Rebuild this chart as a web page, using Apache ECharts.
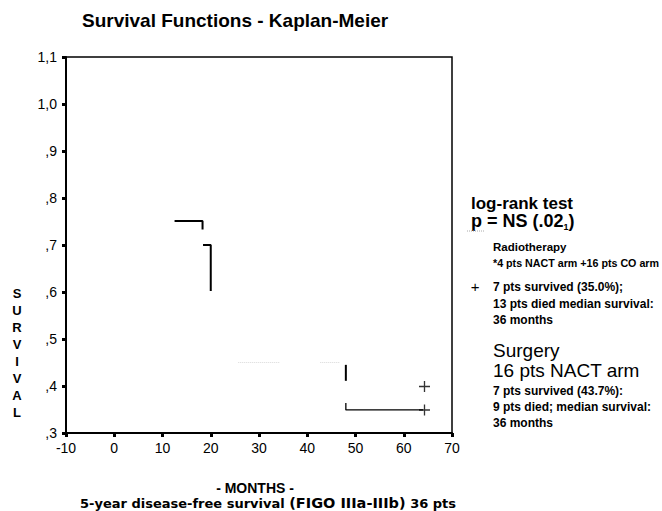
<!DOCTYPE html>
<html><head><meta charset="utf-8">
<script src="https://cdn.jsdelivr.net/npm/echarts@6/dist/echarts.min.js"></script>
<style>html,body{margin:0;padding:0;background:#fff}#c{width:662px;height:511px}</style>
</head><body><div id="c"></div>
<script>
// ---- data ----
const yTickLabels = [',3', ',4', ',5', ',6', ',7', ',8', ',9', '1,0', '1,1'];
const xTickLabels = ['-10', '0', '10', '20', '30', '40', '50', '60', '70'];
// visible (dark) parts of the Kaplan-Meier step curves
const stepA = [[12.5, 0.751], [18.3, 0.751], [18.3, 0.733]];
const stepB = [[18.4, 0.700], [20.0, 0.700], [20.0, 0.602]];
const stepC = [[48.0, 0.445], [48.0, 0.411]];
const stepD = [[48.0, 0.364], [48.0, 0.349], [64.0, 0.349]];
// faint (washed-out) parts
const faint1 = [[25.7, 0.45], [34.4, 0.45]];
const faint2 = [[42.7, 0.45], [46.8, 0.45]];
// censored marks (+)
const censored = [[64.3, 0.399], [64.3, 0.349]];

const FONT = '"Liberation Sans", Arial, Helvetica, sans-serif';
const WIDE = '"DejaVu Sans", "Liberation Sans", sans-serif';
const plus = 'path://M4.4,0h1.2v10h-1.2z M0,4.4h10v1.2h-10z';

function lineSeries(data, color, width, type) {
  return {
    type: 'line', data: data, symbol: 'none', silent: true,
    lineStyle: { color: color, width: width, type: type || 'solid' },
    animation: false
  };
}

const chart = echarts.init(document.getElementById('c'), null, { renderer: 'svg' });
chart.setOption({
  animation: false,
  backgroundColor: '#fff',
  grid: { left: 66, right: 210, top: 57, bottom: 78, show: true, borderColor: '#000', borderWidth: 1.5, backgroundColor: 'transparent' },
  xAxis: {
    type: 'value', min: -10, max: 70, interval: 10,
    axisLine: { show: true, onZero: false, lineStyle: { color: '#000', width: 2 } },
    axisTick: { show: true, length: 4, lineStyle: { color: '#000', width: 3 } },
    splitLine: { show: false },
    axisLabel: {
      color: '#000', fontSize: 14, fontFamily: FONT, margin: 8,
      formatter: v => xTickLabels[Math.round((v + 10) / 10)]
    }
  },
  yAxis: {
    type: 'value', min: 0.3, max: 1.1, interval: 0.1,
    axisLine: { show: true, onZero: false, lineStyle: { color: '#000', width: 2 } },
    axisTick: { show: true, length: 4, lineStyle: { color: '#000', width: 3 } },
    splitLine: { show: false },
    axisLabel: {
      color: '#000', fontSize: 14, fontFamily: FONT, margin: 9,
      formatter: v => yTickLabels[Math.round((v - 0.3) * 10)]
    }
  },
  series: [
    lineSeries(faint1, '#d8d8d8', 1, 'dotted'),
    lineSeries(faint2, '#d8d8d8', 1, 'dotted'),
    lineSeries(stepA, '#000', 2),
    lineSeries(stepB, '#000', 2),
    lineSeries(stepC, '#000', 2),
    lineSeries(stepD, '#000', 1.3),
    {
      type: 'scatter', data: censored, symbol: plus, symbolSize: 11,
      itemStyle: { color: '#000' }, silent: true, animation: false
    }
  ],
  graphic: [
    { type: 'text', left: 82, top: 11, style: { text: 'Survival Functions - Kaplan-Meier', font: 'bold 19px ' + FONT, fill: '#000' } },
    { type: 'text', x: 17, y: 285, style: { text: 'S\nU\nR\nV\nI\nV\nA\nL', font: 'bold 13px ' + FONT, fill: '#000', align: 'center', verticalAlign: 'top', lineHeight: 17 } },
    { type: 'text', x: 255, y: 488, style: { text: '- MONTHS -', font: 'bold 14px ' + FONT, fill: '#000', align: 'center', verticalAlign: 'middle' } },
    { type: 'text', x: 268, y: 503, style: {
        text: '{a|5-year disease-free survival }{b|(FIGO IIIa-IIIb)}{a| 36 pts}',
        align: 'center', verticalAlign: 'middle',
        rich: {
          a: { fontFamily: WIDE, fontSize: 13, fontWeight: 'bold', color: '#000' },
          b: { fontFamily: WIDE, fontSize: 14.5, fontWeight: 'bold', color: '#000' }
        } } },
    // legend / annotation block
    { type: 'text', x: 471, y: 203, style: { text: 'log-rank test', font: 'bold 17px ' + FONT, fill: '#000', verticalAlign: 'middle' } },
    { type: 'text', x: 471, y: 221, style: {
        text: '{a|p = NS (.02}{s|1}{a|)}', verticalAlign: 'middle',
        rich: {
          a: { fontFamily: FONT, fontSize: 18, fontWeight: 'bold', color: '#000', lineHeight: 20 },
          s: { fontFamily: FONT, fontSize: 9, fontWeight: 'bold', color: '#000', lineHeight: 12, verticalAlign: 'bottom' }
        } } },
    { type: 'line', shape: { x1: 467, y1: 231, x2: 484, y2: 231 }, style: { stroke: '#aaa', lineWidth: 1, lineDash: [1, 1] } },
    { type: 'text', x: 493, y: 247, style: { text: 'Radiotherapy', font: 'bold 11.5px ' + FONT, fill: '#000', verticalAlign: 'middle' } },
    { type: 'text', x: 493, y: 263, style: { text: '*4 pts NACT arm +16 pts CO arm', font: 'bold 10.7px ' + FONT, fill: '#000', verticalAlign: 'middle' } },
    { type: 'text', x: 475, y: 286, style: { text: '+', font: '15px ' + FONT, fill: '#000', align: 'center', verticalAlign: 'middle' } },
    { type: 'text', x: 493, y: 287, style: { text: '7 pts survived (35.0%);', font: 'bold 12px ' + FONT, fill: '#000', verticalAlign: 'middle' } },
    { type: 'text', x: 493, y: 304, style: { text: '13 pts died median survival:', font: 'bold 12px ' + FONT, fill: '#000', verticalAlign: 'middle' } },
    { type: 'text', x: 493, y: 320, style: { text: '36 months', font: 'bold 12px ' + FONT, fill: '#000', verticalAlign: 'middle' } },
    { type: 'text', x: 493, y: 350, style: { text: 'Surgery', font: '19px ' + FONT, fill: '#000', verticalAlign: 'middle' } },
    { type: 'text', x: 493, y: 370, style: { text: '16 pts NACT arm', font: '19px ' + FONT, fill: '#000', verticalAlign: 'middle' } },
    { type: 'text', x: 493, y: 391, style: { text: '7 pts survived (43.7%):', font: 'bold 12px ' + FONT, fill: '#000', verticalAlign: 'middle' } },
    { type: 'text', x: 493, y: 407, style: { text: '9 pts died; median survival:', font: 'bold 12px ' + FONT, fill: '#000', verticalAlign: 'middle' } },
    { type: 'text', x: 493, y: 423, style: { text: '36 months', font: 'bold 12px ' + FONT, fill: '#000', verticalAlign: 'middle' } }
  ]
});
</script>
</body></html>
